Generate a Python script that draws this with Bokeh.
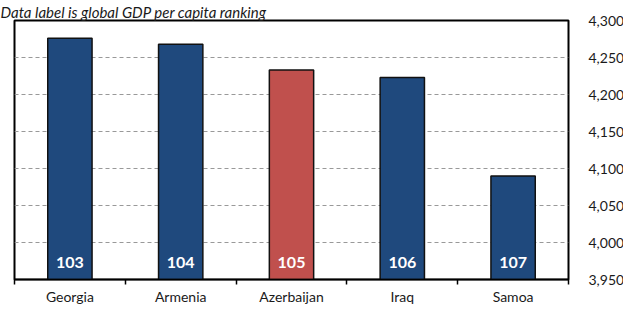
from bokeh.plotting import figure
from bokeh.models import ColumnDataSource, Range1d, FixedTicker, NumeralTickFormatter
from bokeh.embed import file_html
from bokeh.resources import INLINE
from bokeh.core.properties import value

# ---- data ----
countries = ["Georgia", "Armenia", "Azerbaijan", "Iraq", "Samoa"]
gdp_per_capita = [4276, 4268, 4233, 4223, 4090]
ranking = ["103", "104", "105", "106", "107"]
highlight = "Azerbaijan"
y_ticks = [3950, 4000, 4050, 4100, 4150, 4200, 4250, 4300]
title_text = "Data label is global GDP per capita ranking"

BLUE = "#1F497D"
RED = "#C0504D"
FONT = "Lato"

xs = [i + 0.5 for i in range(len(countries))]
colors = [RED if c == highlight else BLUE for c in countries]
src = ColumnDataSource(dict(x=xs, top=gdp_per_capita, lab=ranking, color=colors,
                            base=[y_ticks[0]] * len(countries)))

p = figure(frame_width=554, frame_height=259, output_backend="svg", toolbar_location=None,
           x_range=Range1d(0, len(countries)), y_range=Range1d(y_ticks[0], y_ticks[-1]),
           y_axis_location="right", min_border_left=14, min_border_top=0,
           min_border_bottom=0, min_border_right=0, title=title_text)
p.background_fill_color = "white"
p.border_fill_color = "white"
p.outline_line_color = "black"
p.outline_line_width = 2

p.title.align = "left"
p.title.offset = -14
p.title.standoff = 0
p.title.text_font = FONT
p.title.text_font_style = "italic"
p.title.text_font_size = "15px"
p.title.text_color = "#1a1a1a"

p.vbar(x="x", top="top", bottom="base", width=0.4, source=src,
       fill_color="color", line_color="#111111", line_width=1.5)

p.text(x="x", y="base", text="lab", source=src, text_color="white",
       text_font=value(FONT), text_font_style="bold", text_font_size="16px",
       text_align="center", text_baseline="middle", y_offset=-17)

# y axis (right)
ya = p.yaxis[0]
ya.ticker = FixedTicker(ticks=y_ticks)
ya.formatter = NumeralTickFormatter(format="0,0")
ya.axis_line_color = None
ya.major_tick_line_color = None
ya.minor_tick_line_color = None
ya.major_label_standoff = 14
ya.major_label_text_font = FONT
ya.major_label_text_font_size = "14px"
ya.major_label_text_color = "#1a1a1a"

# x axis
xa = p.xaxis[0]
xa.ticker = FixedTicker(ticks=xs, minor_ticks=list(range(len(countries) + 1)))
xa.major_label_overrides = {x: c for x, c in zip(xs, countries)}
xa.major_tick_in = 0
xa.major_tick_out = 0
xa.minor_tick_in = 0
xa.minor_tick_out = 5
xa.minor_tick_line_color = "black"
xa.minor_tick_line_width = 1.5
xa.axis_line_color = "black"
xa.axis_line_width = 1.5
xa.major_label_standoff = 3
xa.major_label_text_font = FONT
xa.major_label_text_font_size = "14px"
xa.major_label_text_color = "#1a1a1a"

p.xgrid.grid_line_color = None
p.ygrid.ticker = FixedTicker(ticks=y_ticks)
p.ygrid.grid_line_color = "#999999"
p.ygrid.grid_line_dash = "4 3"
p.ygrid.grid_line_width = 1

open("out.html", "w").write(file_html(p, INLINE))
